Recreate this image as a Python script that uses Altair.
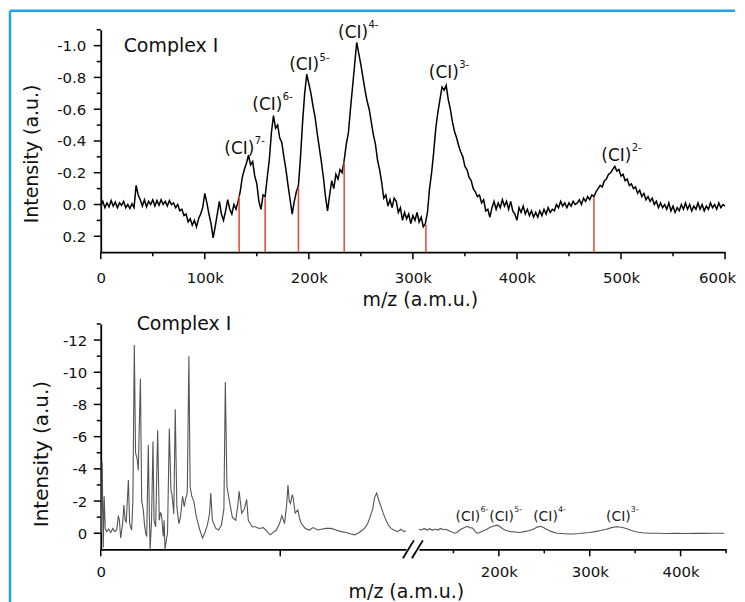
import altair as alt
import pandas as pd

FONT = "DejaVu Sans"
CYAN = "#1ea6e4"
RED = "#e0533d"
GREY = "#555555"

# ---------------- top panel data ----------------
# spectrum sampled every 2k m/z (0 .. 600k), intensities read from the picture
top_mz_k = [2 * i for i in range(301)]
top_intensity = [
    0.01, -0.02, 0.02, -0.01, 0.015, -0.025, 0.01, -0.015, 0.02, -0.01,
    0.005, -0.02, 0.02, 0.0, 0.025, -0.005, 0.02, -0.12, -0.06, -0.03,
    0.01, -0.03, 0.015, -0.02, 0.0, -0.03, 0.01, -0.025, 0.005, -0.03,
    0.0, -0.02, 0.01, -0.025, 0.0, -0.01, 0.02, 0.0, 0.04, 0.03,
    0.07, 0.06, 0.11, 0.09, 0.13, 0.1, 0.14, 0.09, 0.06, 0.02,
    -0.07, -0.01, 0.06, 0.12, 0.21, 0.14, 0.06, -0.02, 0.06, 0.1,
    0.04, -0.03, 0.03, 0.06, 0.0, 0.03, -0.02, -0.08, -0.17, -0.22,
    -0.26, -0.31, -0.25, -0.27, -0.18, -0.13, -0.02, 0.03, -0.06, -0.05,
    -0.17, -0.28, -0.45, -0.56, -0.48, -0.5, -0.42, -0.39, -0.3, -0.22,
    -0.12, -0.03, 0.06, -0.02, -0.08, -0.12, -0.3, -0.52, -0.7, -0.82,
    -0.76, -0.7, -0.62, -0.55, -0.45, -0.36, -0.27, -0.17, -0.05, 0.04,
    -0.06, -0.15, -0.1, -0.19, -0.16, -0.22, -0.2, -0.28, -0.38, -0.45,
    -0.6, -0.74, -0.88, -1.02, -0.95, -0.88, -0.8, -0.72, -0.65, -0.6,
    -0.52, -0.44, -0.38, -0.28, -0.22, -0.14, -0.04, -0.06, 0.01, -0.03,
    0.02, -0.04, -0.02, 0.05, 0.02, 0.1, 0.05, 0.09, 0.06, 0.12,
    0.07, 0.1, 0.05, 0.11, 0.08, 0.14, 0.12, 0.05, -0.1, -0.2,
    -0.33, -0.48, -0.58, -0.66, -0.74, -0.72, -0.75, -0.66, -0.6, -0.52,
    -0.46, -0.42, -0.37, -0.33, -0.3, -0.24, -0.22, -0.17, -0.15, -0.1,
    -0.08, -0.05, -0.06, -0.01, -0.03, 0.04, 0.03, 0.08, 0.02, -0.02,
    0.03, -0.01, 0.02, -0.03, 0.01, -0.02, 0.03, -0.02, 0.04, 0.06,
    0.1, 0.02, 0.05, 0.01, 0.06, 0.03, 0.07, 0.04, 0.08, 0.05,
    0.08, 0.04, 0.07, 0.03, 0.06, 0.02, 0.05, 0.03, 0.04, 0.0,
    0.02, -0.02, 0.01, -0.01, 0.02, -0.01, 0.01, -0.02, 0.0, -0.01,
    -0.03, 0.0, -0.04, -0.02, -0.05, -0.03, -0.06, -0.05, -0.08, -0.1,
    -0.12, -0.11, -0.15, -0.16, -0.19, -0.2, -0.22, -0.24, -0.21, -0.22,
    -0.18, -0.19, -0.15, -0.16, -0.12, -0.13, -0.1, -0.11, -0.07, -0.09,
    -0.05, -0.07, -0.03, -0.05, -0.02, -0.04, 0.0, -0.02, 0.02, -0.01,
    0.02, 0.0, 0.03, -0.01, 0.04, 0.01, 0.05, 0.02, 0.04, 0.0,
    0.03, -0.01, 0.03, 0.0, 0.04, 0.01, 0.03, -0.01, 0.03, 0.0,
    0.04, 0.01, 0.03, -0.01, 0.02, 0.0, 0.03, -0.01, 0.02, 0.0,
    0.01,
]

red_mz = [133000, 158000, 190000, 234000, 312500, 474000]
red_top = [-0.056, -0.044, -0.11, -0.27, 0.125, -0.045]

top_label_mz = [133200, 160100, 195500, 242500, 329700, 495500]
top_label_int = [-0.35, -0.625, -0.875, -1.08, -0.825, -0.306]
top_label_charge = ["7-", "6-", "5-", "4-", "3-", "2-"]

# ---------------- bottom panel data ----------------
# left (low m/z) segment, x in arbitrary units of the broken axis
low_x = [
    0.03, 0.08, 0.14, 0.19, 0.25, 0.33, 0.44, 0.56, 0.67, 0.78,
    0.89, 0.98, 1.04, 1.11, 1.22, 1.29, 1.36, 1.42, 1.54, 1.61,
    1.72, 1.79, 1.87, 1.94, 2.03, 2.09, 2.21, 2.28, 2.37, 2.44,
    2.5, 2.56, 2.65, 2.71, 2.75, 2.83, 2.91, 2.97, 3.06, 3.17,
    3.26, 3.33, 3.39, 3.48, 3.53, 3.58, 3.67, 3.72, 3.82, 3.91,
    3.97, 4.07, 4.15, 4.24, 4.35, 4.44, 4.56, 4.65, 4.72, 4.82,
    4.91, 4.98, 5.07, 5.18, 5.33, 5.52, 5.67, 5.79, 5.94, 6.06,
    6.13, 6.22, 6.41, 6.56, 6.72, 6.86, 6.94, 7.03, 7.15, 7.33,
    7.52, 7.64, 7.71, 7.85, 8.0, 8.13, 8.22, 8.43, 8.61, 8.83,
    9.06, 9.28, 9.44, 9.61, 9.78, 9.96, 10.09, 10.24, 10.36, 10.43,
    10.5, 10.57, 10.67, 10.72, 10.83, 10.98, 11.08, 11.17, 11.39, 11.63,
    11.83, 12.09, 12.28, 12.56, 12.83, 13.11, 13.39, 13.67, 13.94, 14.13,
    14.33, 14.59, 14.72, 14.87, 15.0, 15.15, 15.25, 15.37, 15.5, 15.61,
    15.75, 15.89, 16.03, 16.17, 16.33, 16.54, 16.72, 16.89, 17.0,
]
low_int = [
    0.0, -4.4, 0.9, -2.3, -0.3, -0.1, -0.25, -0.05, -0.3, -0.1,
    -0.2, -1.1, -0.8, 0.3, -0.6, -1.75, -0.8, -0.7, -3.3, -0.6,
    -0.2, -2.0, -11.7, -5.0, -4.6, -3.9, -9.6, -2.0, -1.45, -0.5,
    0.0, 0.2, -5.5, -1.0, 1.0, -0.8, -5.7, -0.8, -0.4, -6.4,
    -0.8, -1.3, -1.1, 0.2, -0.8, 1.0, 0.3, 0.0, -6.5, -2.7,
    -2.4, -1.2, -7.7, -1.65, -0.6, -1.0, -2.3, -1.65, -2.1, -2.5,
    -11.0, -2.9, -2.3, -2.0, -1.0, -0.2, 0.3, 0.0, -0.5, -1.2,
    -2.5, -0.8, -0.3, -0.2, -0.5, -1.5, -9.4, -2.9, -2.1, -1.0,
    -0.8, -1.8, -2.6, -1.25, -1.5, -2.1, -0.8, -0.4, -0.4, -0.3,
    -0.35, -0.1, 0.1, -0.05, -0.2, -0.6, -1.1, -0.6, -1.8, -3.0,
    -2.0, -1.85, -2.4, -2.2, -1.25, -1.45, -0.9, -0.6, -0.3, -0.2,
    -0.35, -0.2, -0.25, -0.3, -0.3, -0.2, -0.1, -0.05, 0.05, 0.1,
    0.0, -0.2, -0.35, -0.6, -1.0, -1.5, -2.2, -2.5, -2.0, -1.65,
    -1.2, -0.8, -0.5, -0.3, -0.2, -0.1, -0.25, -0.1, -0.15,
]

# right (high m/z) segment, m/z in thousands
high_mz_k = [
    112, 115, 118, 121, 124, 127, 130, 133, 136, 139,
    142, 145, 148, 151, 154, 157, 160, 163, 165, 168,
    171, 174, 176, 179, 183, 187, 190, 194, 198, 201,
    205, 209, 213, 218, 223, 228, 233, 238, 242, 246,
    249, 253, 258, 264, 270, 276, 282, 288, 294, 300,
    306, 312, 318, 324, 329, 335, 340, 346, 352, 358,
    365, 375, 385, 395, 405, 415, 425, 435, 448,
]
high_int = [
    -0.25, -0.2, -0.3, -0.2, -0.28, -0.18, -0.26, -0.2, -0.3, -0.22,
    -0.25, -0.15, -0.1, 0.0, -0.05, -0.2, -0.3, -0.38, -0.43, -0.35,
    -0.33, -0.1, 0.0, -0.05, -0.15, -0.25, -0.35, -0.45, -0.5, -0.42,
    -0.25, -0.15, -0.1, -0.08, -0.05, -0.1, -0.15, -0.25, -0.38, -0.43,
    -0.35, -0.23, -0.1, 0.0, 0.02, 0.05, 0.05, 0.02, -0.02, -0.05,
    -0.1, -0.17, -0.25, -0.35, -0.4, -0.37, -0.3, -0.17, -0.08, -0.03,
    0.0, 0.0, 0.02, 0.0, 0.02, 0.0, 0.01, 0.0, 0.0,
]

bot_label_mz_k = [166.0, 203.1, 251.4, 331.5]
bot_label_int = [-1.0, -1.0, -1.0, -1.0]
bot_label_charge = ["6-", "5-", "4-", "3-"]

# tick positions (major = labelled, minor = unlabelled)
top_x_major = [0, 100000, 200000, 300000, 400000, 500000, 600000]
top_x_minor = [50000, 150000, 250000, 350000, 450000, 550000]
top_y_major = [-1.0, -0.8, -0.6, -0.4, -0.2, 0.0, 0.2]
top_y_minor = [-1.1, -0.9, -0.7, -0.5, -0.3, -0.1, 0.1]
bot_y_major = [-12, -10, -8, -6, -4, -2, 0]
bot_y_minor = [-13, -11, -9, -7, -5, -3, -1]
low_x_major = [0, 10]
high_x_major = [200000, 300000, 400000]
high_x_minor = [150000, 250000, 350000, 450000]

# ---------------- frames ----------------
top_df = pd.DataFrame({"mz": [k * 1000 for k in top_mz_k], "intensity": top_intensity})
red_df = pd.DataFrame({"mz": red_mz, "intensity": red_top})
top_lab_df = pd.DataFrame({"mz": top_label_mz, "intensity": top_label_int, "charge": top_label_charge})
low_df = pd.DataFrame({"x": low_x, "intensity": low_int})
high_df = pd.DataFrame({"mz": [k * 1000 for k in high_mz_k], "intensity": high_int})
bot_lab_df = pd.DataFrame({"mz": [k * 1000 for k in bot_label_mz_k], "intensity": bot_label_int,
                           "charge": bot_label_charge})
one = pd.DataFrame({"k": [0]})

MAJ = 7
MIN = 4
TICK_W = 1.5
MINUS = "\u2212"


def xticks(values, field, length, h):
    return alt.Chart(pd.DataFrame({field: values})).mark_rule(color="#000", strokeWidth=TICK_W).encode(
        x=f"{field}:Q", y=alt.value(h), y2=alt.value(h + length)
    )


def yticks(values, length):
    return alt.Chart(pd.DataFrame({"intensity": values})).mark_rule(color="#000", strokeWidth=TICK_W).encode(
        y="intensity:Q", x=alt.value(0), x2=alt.value(-length)
    )


K_LABEL = "datum.value == 0 ? '0' : (datum.value / 1000) + 'k'"

# ---------------- top chart ----------------
W_TOP, H_TOP = 626, 223
top_x_axis = alt.Axis(
    values=top_x_major, tickCount=40, labelExpr=K_LABEL, ticks=False, labelPadding=MAJ + 11,
    labelOffset={"condition": {"test": "datum.value == 600000", "value": -8}, "value": 0},
    title="m/z (a.m.u.)", titleX=320, titleY=47, titleBaseline="middle",
)
top_y_axis = alt.Axis(
    values=top_y_major, tickCount=40,
    labelExpr="replace(format(datum.value, '.1f'), '" + MINUS + "', '-')",
    ticks=False, labelPadding=MAJ + 8,
    title="Intensity (a.u.)", titleX=-69, titleY=124, titleBaseline="middle",
)

top_line = alt.Chart(top_df).mark_line(color="#000000", strokeWidth=1.5).encode(
    x=alt.X("mz:Q", scale=alt.Scale(domain=[0, 600000], nice=False, zero=False), axis=top_x_axis),
    y=alt.Y("intensity:Q", scale=alt.Scale(domain=[-1.1, 0.3], nice=False, zero=False, reverse=True),
            axis=top_y_axis),
)
red_rules = alt.Chart(red_df).mark_rule(color=RED, strokeWidth=1.6).encode(
    x="mz:Q", y="intensity:Q", y2=alt.datum(0.3)
)
top_labels = alt.Chart(top_lab_df).mark_text(
    text="(CI)", font=FONT, fontSize=17, align="center", baseline="middle", color="#111"
).encode(x="mz:Q", y="intensity:Q")
top_sups = alt.Chart(top_lab_df).mark_text(
    font=FONT, fontSize=10, align="left", baseline="middle", dx=15.5, dy=-8, color="#111"
).encode(x="mz:Q", y="intensity:Q", text="charge:N")
top_title = alt.Chart(one).mark_text(
    text="Complex I", font=FONT, fontSize=19, align="left", baseline="middle", color="#111"
).encode(x=alt.datum(22000), y=alt.datum(-1.0))
frame_top = alt.Chart(one).mark_rule(color=CYAN, strokeWidth=2.5).encode(
    x=alt.value(-91), x2=alt.value(636), y=alt.value(-19)
)
frame_left = alt.Chart(one).mark_rule(color=CYAN, strokeWidth=2.5).encode(
    x=alt.value(-91), y=alt.value(-19), y2=alt.value(580)
)

top = alt.layer(
    top_line, red_rules, top_labels, top_sups, top_title,
    xticks(top_x_major, "mz", MAJ, H_TOP), xticks(top_x_minor, "mz", MIN, H_TOP),
    yticks(top_y_major, MAJ), yticks(top_y_minor, MIN),
    frame_top, frame_left,
).properties(width=W_TOP, height=H_TOP)

# ---------------- bottom charts ----------------
H_BOT = 226
bot_y_scale = alt.Scale(domain=[-13, 1], nice=False, zero=False, reverse=True)
bot_y_axis = alt.Axis(
    values=bot_y_major, tickCount=40, labelExpr="'' + datum.value", ticks=False, labelPadding=MAJ + 7,
    title="Intensity (a.u.)", titleX=-59, titleY=130, titleBaseline="middle", titleFontSize=20,
)
low_x_axis = alt.Axis(
    values=[0], tickCount=40, labelExpr="'' + datum.value", ticks=False, labelPadding=MAJ + 8,
    title="m/z (a.m.u.)", titleX=306, titleY=42, titleBaseline="middle",
)
low_line = alt.Chart(low_df).mark_line(color=GREY, strokeWidth=1.1).encode(
    x=alt.X("x:Q", scale=alt.Scale(domain=[0, 17], nice=False, zero=False), axis=low_x_axis),
    y=alt.Y("intensity:Q", scale=bot_y_scale, axis=bot_y_axis),
)
low_title = alt.Chart(one).mark_text(
    text="Complex I", font=FONT, fontSize=19, align="left", baseline="middle", color="#111"
).encode(x=alt.datum(2.0), y=alt.datum(-13.0))
slash1 = alt.Chart(one).mark_rule(color="#000", strokeWidth=1.8).encode(
    x=alt.value(303), x2=alt.value(314), y=alt.value(235), y2=alt.value(217)
)
slash2 = alt.Chart(one).mark_rule(color="#000", strokeWidth=1.8).encode(
    x=alt.value(312), x2=alt.value(323), y=alt.value(235), y2=alt.value(217)
)
bottom_left = alt.layer(
    low_line, low_title,
    xticks(low_x_major, "x", MAJ, H_BOT),
    yticks(bot_y_major, MAJ), yticks(bot_y_minor, MIN),
    slash1, slash2,
).properties(width=306, height=H_BOT)

high_x_axis = alt.Axis(
    values=high_x_major, tickCount=40, labelExpr=K_LABEL, ticks=False, labelPadding=MAJ + 8, title=None,
)
high_line = alt.Chart(high_df).mark_line(color=GREY, strokeWidth=1.1).encode(
    x=alt.X("mz:Q", scale=alt.Scale(domain=[112000, 450000], nice=False, zero=False), axis=high_x_axis),
    y=alt.Y("intensity:Q", scale=bot_y_scale, axis=None),
)
bot_labels = alt.Chart(bot_lab_df).mark_text(
    text="(CI)", font=FONT, fontSize=14, align="center", baseline="middle", color="#222"
).encode(x="mz:Q", y="intensity:Q")
bot_sups = alt.Chart(bot_lab_df).mark_text(
    font=FONT, fontSize=8, align="left", baseline="middle", dx=12.5, dy=-7, color="#222"
).encode(x="mz:Q", y="intensity:Q", text="charge:N")
bottom_right = alt.layer(
    high_line, bot_labels, bot_sups,
    xticks(high_x_major, "mz", MAJ, H_BOT), xticks(high_x_minor, "mz", MIN, H_BOT),
).properties(width=308, height=H_BOT)

bottom = alt.hconcat(bottom_left, bottom_right, spacing=13, bounds="flush")

chart = alt.vconcat(top, bottom, spacing=72, bounds="flush", padding=0).configure_view(
    stroke=None
).configure_axis(
    labelFont=FONT, labelFontSize=15, labelColor="#111",
    titleFont=FONT, titleFontSize=19, titleFontWeight="normal", titleColor="#111",
    domainColor="#000", domainWidth=1.8,
    grid=False, labelFlush=False, labelOverlap=False,
)

chart.save("out.html", embed_options={"renderer": "svg", "actions": False})
